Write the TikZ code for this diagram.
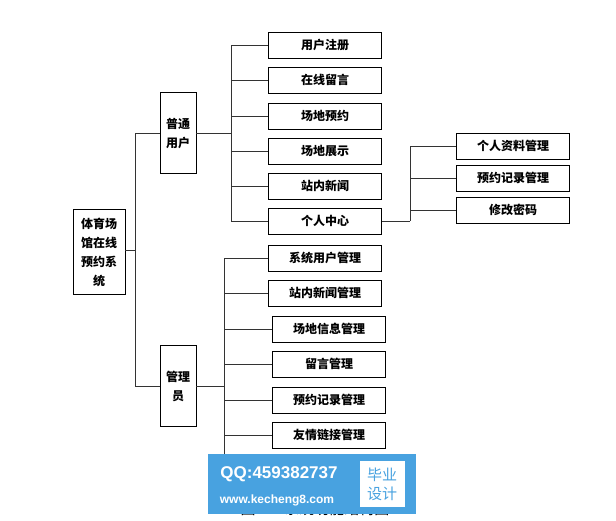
\documentclass[tikz,border=0pt]{standalone}
\usepackage{fontspec}
\setmainfont{Liberation Sans}
\newfontfamily\cjk{Noto Sans CJK SC}
\usetikzlibrary{positioning}
\definecolor{wmblue}{HTML}{48A2E0}

\begin{document}
\begin{tikzpicture}[
    x=1pt, y=-1pt,
    % module boxes
    leaf/.style={rectangle, draw=black, thick, fill=white, minimum width=113pt,
        minimum height=26pt, font=\cjk\bfseries\fontsize{12}{14}\selectfont, inner sep=1pt},
    role/.style={rectangle, draw=black, thick, fill=white, minimum width=36pt,
        minimum height=81pt, font=\cjk\bfseries\fontsize{12}{19}\selectfont, align=center, inner sep=1pt},
    line/.style={draw=black!80, thick}
]
    \useasboundingbox (0,0) rectangle (616,520);

    % root and roles
    \node[role, minimum width=52pt, minimum height=85pt] (root) at (99,252) {体育场\\馆在线\\预约系\\统};
    \node[role] (user) at (178,133) {普通\\用户};
    \node[role] (admin) at (178,386) {管理\\员};

    % user modules
    \node[leaf] (reg) at (325,45) {用户注册};
    \node[leaf] (msg) at (325,80) {在线留言};
    \node[leaf] (book) at (325,116) {场地预约};
    \node[leaf] (show) at (325,151) {场地展示};
    \node[leaf] (news) at (325,186) {站内新闻};
    \node[leaf] (center) at (325,221) {个人中心};

    % personal center
    \node[leaf] (info) at (513,146) {个人资料管理};
    \node[leaf] (rec) at (513,178) {预约记录管理};
    \node[leaf] (pwd) at (513,210) {修改密码};

    % admin modules
    \node[leaf] (sysu) at (325,258) {系统用户管理};
    \node[leaf] (newsm) at (325,293) {站内新闻管理};
    \node[leaf] (site) at (329,329) {场地信息管理};
    \node[leaf] (msgm) at (329,364) {留言管理};
    \node[leaf] (recm) at (329,400) {预约记录管理};
    \node[leaf] (link) at (329,435) {友情链接管理};

    % connectors
    \coordinate (t0) at (135,133);
    \coordinate (t1) at (135,386);
    \draw[line] (root.east |- 0,250) -- (135,250);
    \draw[line] (t0) -- (t1);
    \draw[line] (t0) -- (user.west);
    \draw[line] (t1) -- (admin.west);
    \draw[line] (user.east) -- (231,133);
    \draw[line] (231,45) -- (231,221);
    \foreach \n in {reg,msg,book,show,news,center}
        \draw[line] (231,0 |- \n) -- (\n.west);
    \draw[line] (center.east) -- (410,221);
    \draw[line] (410,146) -- (410,221);
    \foreach \n in {info,rec,pwd}
        \draw[line] (410,0 |- \n) -- (\n.west);
    \draw[line] (admin.east) -- (224,386);
    \draw[line] (224,258) -- (224,470);
    \foreach \n in {sysu,newsm,site,msgm,recm,link}
        \draw[line] (224,0 |- \n) -- (\n.west);

    % caption and watermark
    \node[font=\cjk\fontsize{15}{17}\selectfont] (cap) at (315,509) {图 1-1 系统功能结构图};
    \node[fill=wmblue, minimum width=208pt, minimum height=60pt] (wm) at (312,484) {};
    \node[text=white, font=\bfseries\fontsize{17}{19}\selectfont] (qq) at (279,474) {QQ:459382737};
    \node[text=white, font=\bfseries\fontsize{12}{14}\selectfont] (web) at (277,500) {www.kecheng8.com};
    \node[fill=white, text=wmblue, font=\cjk\fontsize{15}{19}\selectfont, align=center, inner sep=2pt,
        minimum width=45pt, minimum height=46pt] (tag) at (382,484) {毕业\\设计};
\end{tikzpicture}
\end{document}
